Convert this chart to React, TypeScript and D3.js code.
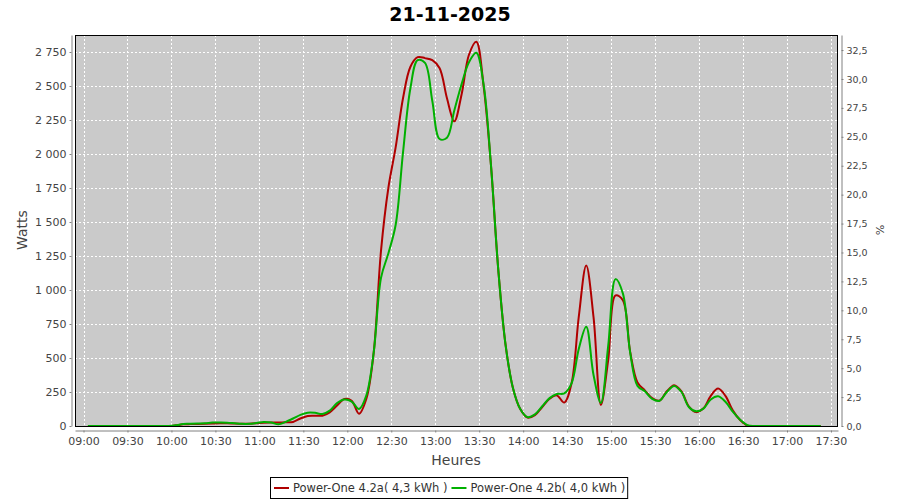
import React, { useEffect, useRef } from 'react';
import * as d3 from 'd3';

// readings every 5 minutes (local time)
const times = [
  '09:03', '09:08', '09:13', '09:18', '09:23', '09:28', '09:33', '09:38', '09:43', '09:48', '09:53', '09:58',
  '10:03', '10:08', '10:13', '10:18', '10:23', '10:28', '10:33', '10:38', '10:43', '10:48', '10:53', '10:58',
  '11:03', '11:08', '11:13', '11:18', '11:23', '11:28', '11:33', '11:38', '11:43', '11:48', '11:53', '11:58',
  '12:03', '12:08', '12:13', '12:18', '12:23', '12:28', '12:33', '12:38', '12:43', '12:48', '12:53', '12:58',
  '13:03', '13:08', '13:13', '13:18', '13:23', '13:28', '13:33', '13:38', '13:43', '13:48', '13:53', '13:58',
  '14:03', '14:08', '14:13', '14:18', '14:23', '14:28', '14:33', '14:38', '14:43', '14:48', '14:53', '14:58',
  '15:03', '15:08', '15:13', '15:18', '15:23', '15:28', '15:33', '15:38', '15:43', '15:48', '15:53', '15:58',
  '16:03', '16:08', '16:13', '16:18', '16:23', '16:28', '16:33', '16:38', '16:43', '16:48', '16:53', '16:58',
  '17:03', '17:08', '17:13', '17:18', '17:23',
];

const powerA = [
  0, 0, 0, 0, 0, 0, 0, 0, 0, 0, 0, 0,
  5, 12, 14, 15, 16, 18, 20, 20, 18, 17, 17, 20,
  24, 25, 25, 27, 30, 55, 74, 76, 76, 100, 150, 198,
  185, 90, 200, 540, 1290, 1750, 2050, 2410, 2640, 2712, 2705, 2690,
  2630, 2410, 2240, 2440, 2730, 2825, 2500, 1920, 1150, 595, 280, 125,
  62, 80, 140, 200, 225, 172, 314, 810, 1180, 800, 155, 485,
  960, 925, 545, 320, 262, 205, 186, 255, 300, 255, 145, 102,
  130, 222, 275, 222, 115, 44, 3, 0, 0, 0, 0, 0,
  0, 0, 0, 0, 0,
];

const powerB = [
  0, 0, 0, 0, 0, 0, 0, 0, 0, 0, 0, 0,
  5, 15, 16, 18, 20, 25, 25, 24, 20, 16, 16, 22,
  30, 26, 12, 30, 55, 82, 98, 97, 88, 113, 168, 195,
  180, 125, 225, 540, 1090, 1269, 1480, 2010, 2480, 2690, 2670, 2390,
  2110, 2120, 2320, 2515, 2675, 2744, 2510, 1920, 1150, 595, 280, 125,
  65, 85, 145, 205, 235, 240, 314, 570, 730, 375, 170, 590,
  1080, 975, 540, 295, 255, 200, 186, 250, 295, 250, 140, 108,
  128, 195, 218, 178, 105, 46, 6, 0, 0, 0, 0, 0,
  0, 0, 0, 0, 0,
];

const seriesNames = ['Power-One 4.2a( 4,3 kWh )', 'Power-One 4.2b( 4,0 kWh )'];
const seriesColors = ['#b00000', '#00b000'];

const wattTicks = [0, 250, 500, 750, 1000, 1250, 1500, 1750, 2000, 2250, 2500, 2750];
const percentTicks = [0, 2.5, 5, 7.5, 10, 12.5, 15, 17.5, 20, 22.5, 25, 27.5, 30, 32.5];
const timeTicks = [
  '09:00', '09:30', '10:00', '10:30', '11:00', '11:30', '12:00', '12:30', '13:00',
  '13:30', '14:00', '14:30', '15:00', '15:30', '16:00', '16:30', '17:00', '17:30',
];

const toDate = (hm: string, s = 0) => {
  const [h, m] = hm.split(':').map(Number);
  return new Date(2025, 10, 21, h, m, s);
};

const FONT = '"DejaVu Sans", sans-serif';

const App = () => {
  const svgRef = useRef<SVGSVGElement>(null);

  useEffect(() => {
    const W = 900;
    const H = 500;
    const left = 75, right = 838, top = 35, bottom = 426;

    const svg = d3.select(svgRef.current).attr('width', W).attr('height', H);
    svg.selectAll('*').remove();

    const fr = d3.formatLocale({ decimal: ',', thousands: ' ', grouping: [3], currency: ['', ''] });

    const x = d3.scaleTime()
      .domain([toDate('08:54', 12), toDate('17:34', 48)])
      .range([left, right]);
    const y = d3.scaleLinear().domain([0, 2875]).range([bottom, top]);
    const yPct = d3.scaleLinear().domain([0, 33.8]).range([bottom, top]);

    svg.append('rect').attr('width', W).attr('height', H).attr('fill', '#fff');

    // title
    svg.append('text')
      .attr('x', 450).attr('y', 21)
      .attr('text-anchor', 'middle')
      .style('font-family', FONT).style('font-size', '19px').style('font-weight', 'bold')
      .attr('fill', '#000')
      .text('21-11-2025');

    // plot background
    svg.append('rect')
      .attr('x', left).attr('y', top)
      .attr('width', right - left).attr('height', bottom - top)
      .attr('fill', '#cacaca');

    // grid
    const grid = svg.append('g').attr('stroke', '#fff').attr('stroke-dasharray', '2,2').attr('shape-rendering', 'crispEdges');
    grid.selectAll('line.v')
      .data(timeTicks.map(t => toDate(t)))
      .enter().append('line')
      .attr('x1', d => Math.round(x(d)) + 0.5).attr('x2', d => Math.round(x(d)) + 0.5)
      .attr('y1', top).attr('y2', bottom);
    grid.selectAll('line.h')
      .data(wattTicks)
      .enter().append('line')
      .attr('x1', left).attr('x2', right)
      .attr('y1', d => Math.round(y(d)) + 0.5).attr('y2', d => Math.round(y(d)) + 0.5);

    // clip
    svg.append('clipPath').attr('id', 'plotclip')
      .append('rect').attr('x', left).attr('y', top).attr('width', right - left).attr('height', bottom - top);

    const line = d3.line<[Date, number]>()
      .x(d => x(d[0]))
      .y(d => y(d[1]))
      .curve(d3.curveCatmullRom.alpha(0.5));

    [powerA, powerB].forEach((vals, i) => {
      svg.append('path')
        .datum(times.map((t, j) => [toDate(t), vals[j]] as [Date, number]))
        .attr('clip-path', 'url(#plotclip)')
        .attr('d', line)
        .attr('fill', 'none')
        .attr('stroke', seriesColors[i])
        .attr('stroke-width', 2)
        .attr('stroke-linejoin', 'round');
    });

    // border
    svg.append('rect')
      .attr('x', left + 0.5).attr('y', top + 0.5)
      .attr('width', right - left - 1).attr('height', bottom - top)
      .attr('fill', 'none').attr('stroke', '#000').attr('stroke-width', 1);

    const styleAxis = (g, size) => {
      g.select('.domain').attr('stroke', '#808080');
      g.selectAll('.tick line').attr('stroke', '#808080');
      g.selectAll('.tick text').attr('fill', '#444').style('font-family', FONT).style('font-size', size);
    };

    // left axis
    const gLeft = svg.append('g').attr('transform', 'translate(71.5,0)')
      .call(d3.axisLeft(y).tickValues(wattTicks).tickFormat(fr.format(',d')).tickSize(2).tickSizeOuter(0).tickPadding(3));
    styleAxis(gLeft, '11px');

    // right axis
    const gRight = svg.append('g').attr('transform', 'translate(841.5,0)')
      .call(d3.axisRight(yPct).tickValues(percentTicks).tickFormat(fr.format('.1f')).tickSize(2).tickSizeOuter(0).tickPadding(3));
    styleAxis(gRight, '9.5px');

    // bottom axis
    const gBottom = svg.append('g').attr('transform', 'translate(0,430.5)')
      .call(d3.axisBottom(x).tickValues(timeTicks.map(t => toDate(t))).tickFormat(d3.timeFormat('%H:%M')).tickSize(2).tickSizeOuter(0).tickPadding(5));
    styleAxis(gBottom, '11px');

    // axis labels
    svg.append('text')
      .attr('transform', 'translate(27,230) rotate(-90)')
      .attr('text-anchor', 'middle')
      .style('font-family', FONT).style('font-size', '14px')
      .attr('fill', '#444')
      .text('Watts');
    svg.append('text')
      .attr('x', 456).attr('y', 465)
      .attr('text-anchor', 'middle')
      .style('font-family', FONT).style('font-size', '14px')
      .attr('fill', '#444')
      .text('Heures');
    svg.append('text')
      .attr('transform', 'translate(876,230) rotate(90)')
      .attr('text-anchor', 'middle')
      .style('font-family', FONT).style('font-size', '11px')
      .attr('fill', '#444')
      .text('%');

    // legend
    const legend = svg.append('g');
    const box = legend.append('rect')
      .attr('y', 477.5).attr('height', 21)
      .attr('fill', '#fff').attr('stroke', '#000');
    let cx = 0;
    const offsets: number[] = [];
    const items = seriesNames.map((name, i) => {
      const g = legend.append('g');
      g.append('line')
        .attr('x1', 0).attr('x2', 15).attr('y1', 488).attr('y2', 488)
        .attr('stroke', seriesColors[i]).attr('stroke-width', 2);
      const t = g.append('text')
        .attr('x', 19).attr('y', 492)
        .style('font-family', FONT).style('font-size', '11.5px')
        .attr('fill', '#333')
        .text(name);
      const w = 19 + (t.node() as SVGTextElement).getComputedTextLength();
      offsets.push(cx);
      cx += w + 4;
      return g;
    });
    const total = cx - 4;
    const x0 = Math.round(450 - total / 2);
    items.forEach((g, i) => g.attr('transform', `translate(${x0 + offsets[i]},0)`));
    box.attr('x', x0 - 3.5).attr('width', total + 6);
  }, []);

  return <svg ref={svgRef} style={{ position: 'absolute', left: 0, top: 0 }} />;
};

export default App;
